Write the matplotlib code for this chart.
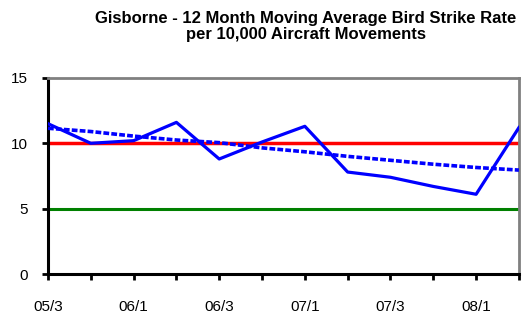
import matplotlib.pyplot as plt
import numpy as np

plt.rcParams['font.family'] = ['Liberation Sans', 'DejaVu Sans']

quarters = ['05/3', '05/4', '06/1', '06/2', '06/3', '06/4',
            '07/1', '07/2', '07/3', '07/4', '08/1', '08/2']
rate = [11.5, 10.0, 10.2, 11.6, 8.8, 10.1, 11.3, 7.8, 7.4, 6.7, 6.1, 11.2]
trend = [11.15, 10.9, 10.55, 10.25, 10.05, 9.65, 9.35, 9.0, 8.7, 8.4, 8.15, 7.95]
upper_limit = 10
lower_limit = 5

x = np.arange(len(quarters))

fig = plt.figure(figsize=(5.25, 3.22), dpi=100)
ax = fig.add_axes([0.0914, 0.149, 0.897, 0.609])

ax.axhline(upper_limit, color='#ff0000', lw=2.5, zorder=2)
ax.axhline(lower_limit, color='#008000', lw=2.2, zorder=2)
ax.plot(x, trend, color='#0000ff', lw=2.6, linestyle=(0, (1.6, 0.6)), zorder=3)
ax.plot(x, rate, color='#0000ff', lw=2.3, zorder=4)

ax.set_xlim(0, len(quarters) - 1)
ax.set_ylim(0, 15)
ax.set_yticks([0, 5, 10, 15])
ax.set_xticks(x)
ax.set_xticklabels([q if i % 2 == 0 else '' for i, q in enumerate(quarters)])

for side in ['left', 'bottom']:
    ax.spines[side].set_color('black')
    ax.spines[side].set_linewidth(2.2)
for side in ['top', 'right']:
    ax.spines[side].set_color('#808080')
    ax.spines[side].set_linewidth(2.0)

ax.tick_params(axis='both', direction='out', length=4.5, width=2, labelsize=11, colors='black')
ax.tick_params(axis='x', pad=14)
ax.tick_params(axis='y', pad=10)

fig.text(0.582, 0.918, 'Gisborne - 12 Month Moving Average Bird Strike Rate\nper 10,000 Aircraft Movements',
         ha='center', va='center', fontsize=12, fontweight='bold', linespacing=1.1)

fig.savefig('out.png', dpi=100)
